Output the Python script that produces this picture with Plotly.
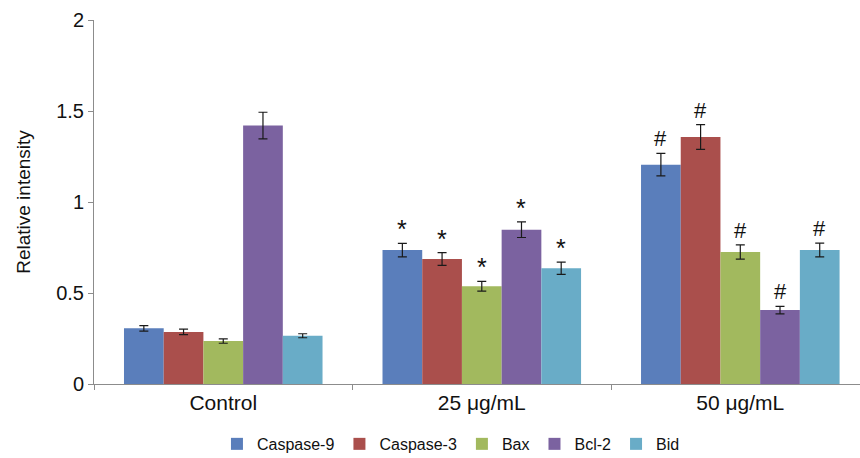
import plotly.graph_objects as go

groups = ["Control", "25 μg/mL", "50 μg/mL"]
series = ["Caspase-9", "Caspase-3", "Bax", "Bcl-2", "Bid"]
colors = ["#5A7EBB", "#AA4F4C", "#A2B95E", "#7B62A0", "#69ACC7"]

caspase9 = [0.306, 0.736, 1.205]
caspase3 = [0.286, 0.687, 1.357]
bax = [0.236, 0.537, 0.725]
bcl2 = [1.42, 0.848, 0.406]
bid = [0.265, 0.636, 0.736]
values = [caspase9, caspase3, bax, bcl2, bid]

err9 = [0.015, 0.037, 0.062]
err3 = [0.015, 0.035, 0.068]
errbax = [0.012, 0.027, 0.039]
errbcl2 = [0.073, 0.043, 0.021]
errbid = [0.011, 0.034, 0.038]
errors = [err9, err3, errbax, errbcl2, errbid]

marks = [["", "*", "#"]] * 5

FONT = "Liberation Sans, Arial, sans-serif"
bargap = 0.232
fig = go.Figure()
for name, col, vals, errs in zip(series, colors, values, errors):
    fig.add_trace(go.Bar(
        x=groups, y=vals, name=name, marker=dict(color=col, line=dict(width=0)),
        error_y=dict(type="data", array=errs, visible=True, color="#1a1a1a",
                     thickness=1.2, width=4.5),
    ))

w = (1 - bargap) / len(series)
for i, (vals, errs) in enumerate(zip(values, errors)):
    for g in range(len(groups)):
        m = marks[i][g]
        if not m:
            continue
        fig.add_annotation(
            x=g + (i - 2) * w, y=vals[g] + errs[g], xref="x", yref="y",
            text=m, showarrow=False, yanchor="bottom",
            yshift=-2 if m == "*" else 0,
            font=dict(family=FONT, size=25 if m == "*" else 22, color="#111"),
        )

fig.update_layout(
    width=860, height=458,
    margin=dict(l=94, r=0, t=20, b=74, autoexpand=False),
    paper_bgcolor="white", plot_bgcolor="white",
    barmode="group", bargap=bargap, bargroupgap=0,
    font=dict(family=FONT, color="#111"),
    legend=dict(orientation="h", x=0.466, xanchor="center", xref="paper",
                y=-0.118, yanchor="top", font=dict(size=16),
                itemwidth=30, traceorder="normal"),
    showlegend=True,
)
fig.update_xaxes(
    type="category", range=[-0.5, 2.463], showline=True, linecolor="#8c8c8c",
    linewidth=1, ticks="outside", tickson="boundaries", ticklen=5,
    tickcolor="#8c8c8c", tickfont=dict(size=21), showgrid=False, automargin=False,
)
fig.update_yaxes(
    range=[0, 2], tickvals=[0, 0.5, 1, 1.5, 2], ticktext=["0", "0.5", "1", "1.5", "2"],
    showline=True, linecolor="#8c8c8c", linewidth=1, ticks="outside", ticklen=5,
    tickcolor="#8c8c8c", tickfont=dict(size=20), showgrid=False, zeroline=False,
    automargin=False,
    title=dict(text="Relative intensity", font=dict(size=19), standoff=20),
)
fig.write_html(
    "out.html",
    config={"displayModeBar": False},
    post_script="document.body.style.margin='0';document.body.style.overflow='hidden';",
)
